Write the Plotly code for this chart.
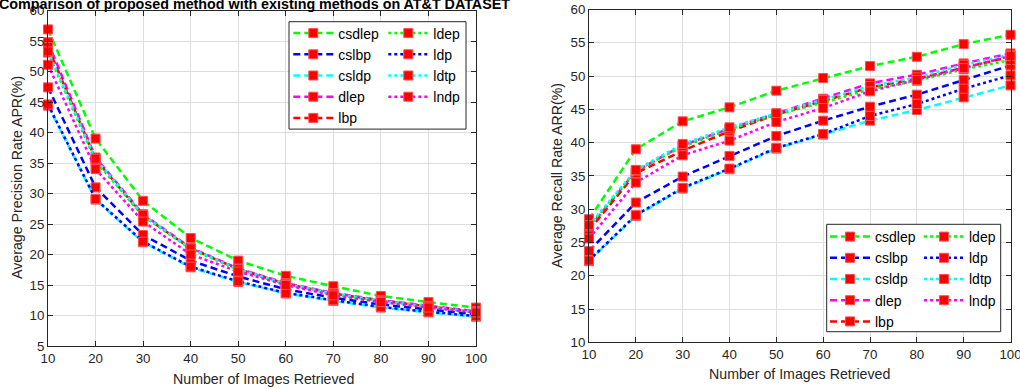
import plotly.graph_objects as go

W, H = 1020, 389

# ---------------- data ----------------
images_retrieved = [10, 20, 30, 40, 50, 60, 70, 80, 90, 100]
methods = ["csdlep", "cslbp", "csldp", "dlep", "lbp", "ldep", "ldp", "ldtp", "lndp"]

# Average Precision Rate (left)
apr_csdlep = [56.9, 39.0, 28.8, 22.7, 19.0, 16.5, 14.8, 13.2, 12.2, 11.3]
apr_cslbp = [47.4, 31.0, 23.2, 19.0, 16.4, 14.3, 12.9, 11.8, 11.0, 10.2]
apr_csldp = [44.4, 29.0, 22.0, 17.9, 15.5, 13.6, 12.4, 11.3, 10.5, 9.8]
apr_dlep = [54.8, 35.9, 26.6, 21.1, 17.7, 15.3, 13.7, 12.5, 11.6, 10.7]
apr_lbp = [54.0, 35.6, 26.4, 21.0, 17.6, 15.2, 13.6, 12.4, 11.5, 10.6]
apr_ldep = [53.1, 35.3, 26.3, 20.9, 17.5, 15.1, 13.5, 12.3, 11.4, 10.5]
apr_ldp = [44.6, 29.1, 22.1, 18.0, 15.6, 13.7, 12.5, 11.4, 10.6, 9.9]
apr_ldtp = [53.3, 35.7, 26.5, 21.0, 17.6, 15.2, 13.6, 12.4, 11.5, 10.6]
apr_lndp = [51.1, 34.0, 25.4, 20.0, 17.2, 15.0, 13.3, 12.2, 11.3, 10.5]

# Average Recall Rate (right)
arr_csdlep = [28.5, 39.0, 43.2, 45.3, 47.8, 49.7, 51.5, 52.9, 54.8, 56.2]
arr_cslbp = [23.7, 31.0, 34.9, 38.0, 41.0, 43.3, 45.4, 47.2, 49.4, 51.6]
arr_csldp = [22.2, 29.0, 33.1, 36.0, 39.1, 41.2, 43.3, 44.9, 46.8, 48.6]
arr_dlep = [27.2, 35.7, 39.6, 42.1, 44.4, 46.6, 48.9, 50.2, 51.9, 53.4]
arr_lbp = [26.8, 35.4, 38.8, 41.7, 44.2, 46.2, 48.3, 49.6, 51.3, 52.9]
arr_ldep = [27.4, 35.8, 39.4, 42.0, 44.2, 46.0, 48.0, 49.3, 51.0, 52.4]
arr_ldp = [22.3, 29.1, 33.2, 36.1, 39.2, 41.3, 44.0, 45.8, 48.1, 50.1]
arr_ldtp = [27.6, 35.9, 39.8, 42.3, 44.4, 46.4, 48.5, 49.8, 51.7, 53.2]
arr_lndp = [25.6, 34.0, 38.1, 40.3, 43.1, 45.2, 47.7, 49.4, 51.2, 53.0]

apr_ticks = [5, 10, 15, 20, 25, 30, 35, 40, 45, 50, 55, 60]
arr_ticks = [10, 15, 20, 25, 30, 35, 40, 45, 50, 55, 60]
x_ticks = [10, 20, 30, 40, 50, 60, 70, 80, 90, 100]

title_text = "Comparison of proposed method with existing methods on AT&T DATASET"
xlabel = "Number of Images Retrieved"
ylabel_left = "Average Precision Rate APR(%)"
ylabel_right = "Average Recall Rate ARR(%)"

apr = dict(csdlep=apr_csdlep, cslbp=apr_cslbp, csldp=apr_csldp, dlep=apr_dlep, lbp=apr_lbp,
           ldep=apr_ldep, ldp=apr_ldp, ldtp=apr_ldtp, lndp=apr_lndp)
arr = dict(csdlep=arr_csdlep, cslbp=arr_cslbp, csldp=arr_csldp, dlep=arr_dlep, lbp=arr_lbp,
           ldep=arr_ldep, ldp=arr_ldp, ldtp=arr_ldtp, lndp=arr_lndp)

# ---------------- styles ----------------
colors = dict(csdlep="#00ff00", cslbp="#0000ff", csldp="#00ffff", dlep="#ff00ff", lbp="#ff0000",
              ldep="#00ff00", ldp="#0000ff", ldtp="#00ffff", lndp="#ff00ff")
DASHED = "7px,4px"
DOTTED = "3px,3px"
dashes = {m: (DASHED if i < 5 else DOTTED) for i, m in enumerate(methods)}

FONT = "Liberation Sans, Arial, sans-serif"
AX = "#262626"
GRID = "#dedede"


def px_x(p):
    return p / W


def px_y(p):
    return 1 - p / H


fig = go.Figure()

for side, data, xa, ya in (("L", apr, "x", "y"), ("R", arr, "x2", "y2")):
    for i, m in enumerate(methods):
        col2 = i >= 5
        if side == "L":
            lg = "legend2" if col2 else "legend"
        else:
            lg = "legend4" if col2 else "legend3"
        fig.add_trace(go.Scatter(
            x=images_retrieved, y=data[m], name=m, mode="lines+markers",
            xaxis=xa, yaxis=ya, legend=lg, cliponaxis=False,
            line=dict(color=colors[m], width=2.5, dash=dashes[m]),
            marker=dict(symbol="square", size=9, color="#ff0000",
                        line=dict(color="#ff5050", width=1)),
        ))

axis_common = dict(
    showline=True, linecolor=AX, linewidth=1, mirror="ticks",
    ticks="inside", ticklen=5, tickcolor=AX, tickwidth=1,
    showgrid=True, gridcolor=GRID, gridwidth=1, zeroline=False,
    tickfont=dict(family=FONT, size=13.3, color=AX), automargin=False,
    ticklabeloverflow="allow",
)

L = dict(x0=48, x1=476, y0=10.5, y1=346)
R = dict(x0=589, x1=1010.5, y0=9.5, y1=342.3)

fig.update_layout(
    width=W, height=H, margin=dict(l=0, r=0, t=0, b=0),
    paper_bgcolor="white", plot_bgcolor="white", showlegend=True,
    xaxis=dict(domain=[px_x(L["x0"]), px_x(L["x1"])], range=[10, 100], tickvals=x_ticks,
               anchor="y", **axis_common),
    yaxis=dict(domain=[px_y(L["y1"]), px_y(L["y0"])], range=[5, 60], tickvals=apr_ticks,
               anchor="x", **axis_common),
    xaxis2=dict(domain=[px_x(R["x0"]), px_x(R["x1"])], range=[10, 100], tickvals=x_ticks,
                anchor="y2", **axis_common),
    yaxis2=dict(domain=[px_y(R["y1"]), px_y(R["y0"])], range=[10, 60], tickvals=arr_ticks,
                anchor="x2", **axis_common),
)

legend_common = dict(
    bgcolor="rgba(0,0,0,0)", borderwidth=0, orientation="v",
    font=dict(family=FONT, size=14, color="black"),
    xanchor="left", yanchor="top", tracegroupgap=0, itemclick=False, itemwidth=40,
)
fig.update_layout(
    legend=dict(x=px_x(288.3), y=px_y(17.5), **legend_common),
    legend2=dict(x=px_x(383.3), y=px_y(17.5), **legend_common),
    legend3=dict(x=px_x(825), y=px_y(221), **legend_common),
    legend4=dict(x=px_x(919), y=px_y(221), **legend_common),
)

# legend boxes
for (x0, x1, y0, y1) in ((289, 466, 21.7, 129.1), (826.7, 1000.7, 224.3, 331.7)):
    fig.add_shape(type="rect", xref="paper", yref="paper",
                  x0=px_x(x0), x1=px_x(x1), y0=px_y(y1), y1=px_y(y0),
                  line=dict(color=AX, width=1), fillcolor="white", layer="above")

# title and axis labels
fig.add_annotation(text="<b>%s</b>" % title_text, xref="paper", yref="paper",
                   x=px_x(254), y=px_y(3.5), xanchor="center", yanchor="middle",
                   showarrow=False, font=dict(family=FONT, size=14.3, color="black"))
fig.add_annotation(text=xlabel, xref="paper", yref="paper", x=px_x(263), y=px_y(379),
                   xanchor="center", yanchor="middle", showarrow=False,
                   font=dict(family=FONT, size=14.2, color=AX))
fig.add_annotation(text=xlabel, xref="paper", yref="paper", x=px_x(799.5), y=px_y(373.5),
                   xanchor="center", yanchor="middle", showarrow=False,
                   font=dict(family=FONT, size=14.2, color=AX))
fig.add_annotation(text=ylabel_left, xref="paper", yref="paper", x=px_x(17), y=px_y(178),
                   xanchor="center", yanchor="middle", textangle=-90, showarrow=False,
                   font=dict(family=FONT, size=14.2, color=AX))
fig.add_annotation(text=ylabel_right, xref="paper", yref="paper", x=px_x(557), y=px_y(176),
                   xanchor="center", yanchor="middle", textangle=-90, showarrow=False,
                   font=dict(family=FONT, size=14.2, color=AX))

fig.write_html("out.html", config={"displayModeBar": False},
               post_script="document.body.style.margin='0';")
